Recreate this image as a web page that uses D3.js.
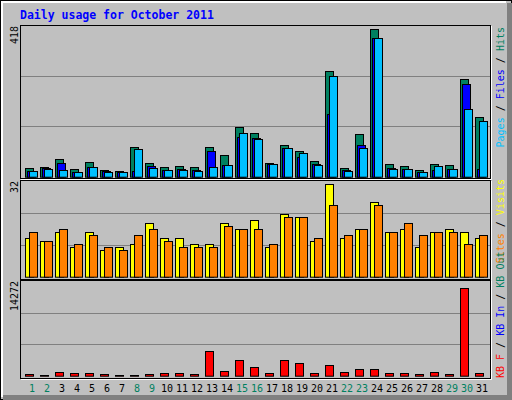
<!DOCTYPE html>
<html><head><meta charset="utf-8">
<script src="https://cdn.jsdelivr.net/npm/d3@7"></script>
<style>body{margin:0;background:#fff}svg{display:block}</style>
</head><body><svg id="c" width="512" height="400"></svg>
<script>
const days = d3.range(1, 32);
const weekendDays = [1,2,8,9,15,16,22,23,29,30];
const hits  = [23,26,48,21,40,18,15,82,37,26,29,26,82,60,138,121,37,88,71,43,294,23,118,411,35,29,18,35,32,271,166];
const files = [15,23,37,12,26,15,12,15,29,18,21,18,71,32,110,107,35,79,54,35,174,18,88,386,23,21,12,18,21,258,21];
const pages = [15,21,18,12,26,12,12,76,23,18,18,15,26,32,121,104,35,79,65,32,280,15,79,386,21,21,12,29,21,188,154];
const visits = [13,12,15,10,15,9,10,11,18,13,13,11,11,18,16,19,10,21,20,12,31,13,16,25,15,16,10,15,16,15,13];
const sites  = [15,12,16,11,14,10,9,14,16,12,10,10,10,17,16,16,11,20,20,13,24,14,16,24,15,18,14,15,15,11,14];
const kbF = [290,144,625,480,480,290,144,144,290,480,480,290,3650,770,2350,1345,480,2350,1920,480,1630,625,1060,1060,480,480,290,625,290,13165,480];
const maxLabels = ["418","32","14272"];
const maxVals = [418, 32, 14272];

const svg = d3.select("#c");
const mono = "DejaVu Sans Mono";
// background & bevel
svg.append("rect").attr("width",512).attr("height",400).attr("fill","#c0c0c0");
svg.append("rect").attr("x",0.5).attr("y",0.5).attr("width",511).attr("height",399).attr("fill","none").attr("stroke","#000");
svg.append("path").attr("d","M2,397V2H506").attr("stroke","#fff").attr("stroke-width",2).attr("fill","none");
svg.append("rect").attr("x",507).attr("y",3).attr("width",5).attr("height",397).attr("fill","#808080");
svg.append("rect").attr("x",3).attr("y",395).attr("width",509).attr("height",5).attr("fill","#808080");

svg.append("text").attr("x",20).attr("y",19).attr("font-family",mono).attr("font-weight","bold")
  .attr("font-size","11.5px").attr("fill","#0000ff").text("Daily usage for October 2011");

const x = d3.scaleLinear().domain([1,31]).range([25,475]);
const panels = [
  {top:25, bottom:178, base:176.7},
  {top:180, bottom:279, base:276.7},
  {top:280, bottom:378, base:375.7}
];
panels.forEach((p,i)=>{
  p.y = d3.scaleLinear().domain([0,maxVals[i]]).range([p.base, p.top+1]);
  svg.append("rect").attr("x",20.5).attr("y",p.top+0.5).attr("width",470).attr("height",p.bottom-p.top)
    .attr("fill","#c0c0c0").attr("stroke","#000");
  svg.append("path").attr("d",`M21,${p.bottom+1.5}H491.5V${p.top+1}`).attr("stroke","#fff").attr("fill","none");
  [1,2].forEach(k=>{
    const gy = Math.round(p.y(maxVals[i]*k/3))+0.5;
    svg.append("line").attr("x1",21).attr("x2",490).attr("y1",gy).attr("y2",gy).attr("stroke","#808080");
  });
  svg.append("text").attr("transform",`translate(18,${p.top+1}) rotate(-90)`).attr("text-anchor","end")
    .attr("font-family",mono).attr("font-size","10px").attr("fill","#000").text(maxLabels[i]);
});

function bars(data, p, off, color){
  svg.append("g").selectAll("rect").data(data).join("rect")
    .attr("x",(d,i)=>x(days[i])+off+0.5).attr("width",8)
    .attr("y",d=>Math.round(p.y(d))+0.5).attr("height",d=>Math.max(0,p.base-Math.round(p.y(d))))
    .attr("fill",color).attr("stroke","#000");
}
bars(hits,panels[0],0,"#008060");
bars(files,panels[0],2,"#0000ff");
bars(pages,panels[0],4,"#00c0ff");
bars(visits,panels[1],0,"#ffff00");
bars(sites,panels[1],4,"#ff8000");
bars(kbF,panels[2],0,"#ff0000");

svg.append("g").selectAll("text").data(days).join("text")
  .attr("x",d=>x(d)+7).attr("y",392).attr("text-anchor","middle")
  .attr("font-family",mono).attr("font-size","10px")
  .attr("fill",d=>weekendDays.includes(d)?"#008060":"#000").text(d=>d);

function sideLabel(parts, y, anchor){
  const t = svg.append("text").attr("transform",`translate(504,${y}) rotate(-90)`)
    .attr("text-anchor",anchor).attr("font-family",mono).attr("font-size","10px");
  parts.forEach(([s,c])=>t.append("tspan").attr("fill",c).text(s));
}
sideLabel([["Pages","#00c0ff"],[" / ","#000"],["Files","#0000ff"],[" / ","#000"],["Hits","#008060"]],27,"end");
sideLabel([["Sites","#ff8000"],[" / ","#000"],["Visits","#ffff00"]],179,"end");
sideLabel([["KB F","#ff0000"],[" / ","#000"],["KB In","#0000ff"],[" / ","#000"],["KB Out","#008060"]],378,"start");
</script></body></html>
